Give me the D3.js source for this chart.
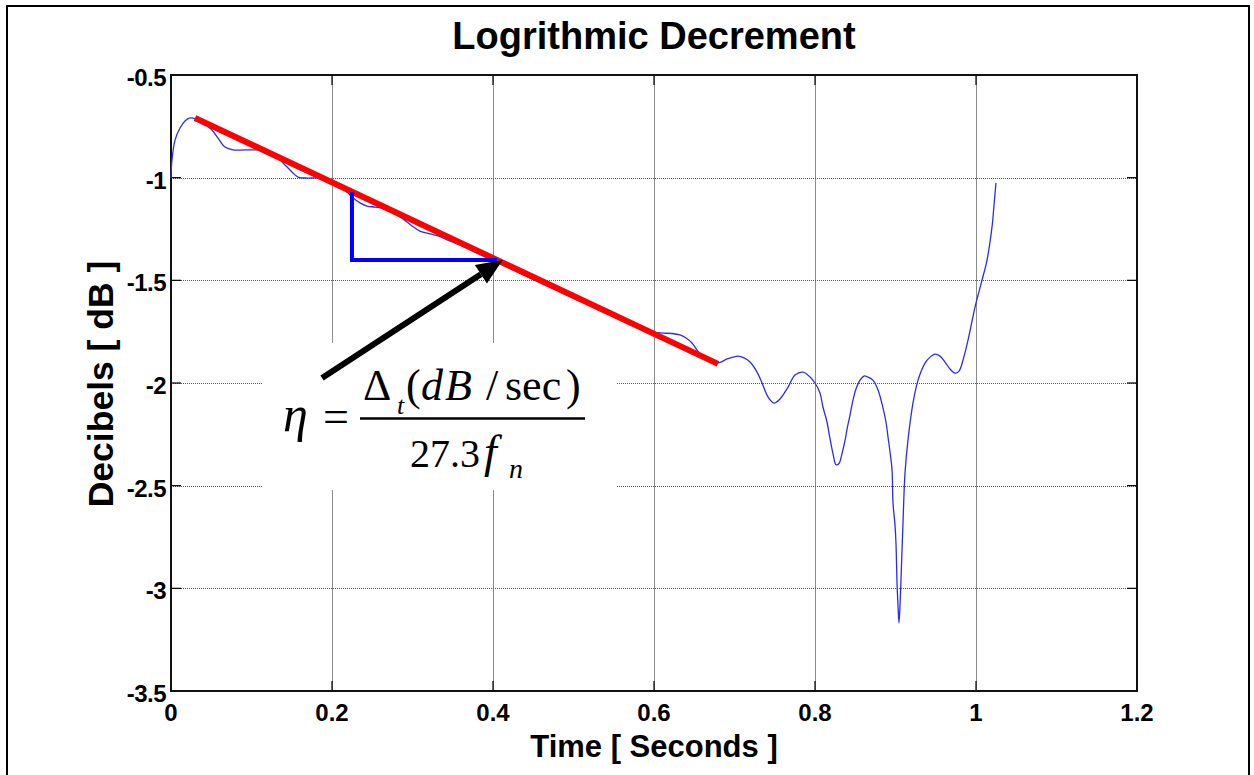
<!DOCTYPE html>
<html>
<head>
<meta charset="utf-8">
<script src="https://cdn.jsdelivr.net/npm/d3@7/dist/d3.min.js"></script>
<style>
  html, body { margin: 0; padding: 0; background: #fff; }
  svg { display: block; }
</style>
</head>
<body>
<svg id="chart" width="1254" height="775"></svg>
<script>
// ---------------- data ----------------
const timeSec = [0,0.0012,0.005,0.0112,0.0174,0.0236,0.0298,0.0422,0.0509,0.0584,0.0671,0.077,0.0919,0.1043,0.113,0.123,0.1329,0.1416,0.1503,0.1578,0.1702,0.1826,0.1913,0.2037,0.2161,0.2248,0.2348,0.2435,0.2534,0.2621,0.2745,0.287,0.2994,0.3093,0.3217,0.3317,0.3441,0.359,0.3776,0.3963,0.4149,0.4335,0.4522,0.4708,0.4894,0.5081,0.5205,0.5329,0.5453,0.5578,0.5702,0.5826,0.5988,0.6112,0.6224,0.6323,0.6398,0.6472,0.6534,0.6609,0.6683,0.6758,0.6832,0.6907,0.6981,0.7043,0.7118,0.7193,0.728,0.7342,0.7416,0.7491,0.7565,0.7665,0.7752,0.7851,0.7938,0.8,0.8062,0.8099,0.8149,0.8186,0.8224,0.8261,0.8298,0.8335,0.8373,0.8398,0.8435,0.8472,0.8509,0.8559,0.8609,0.8658,0.872,0.8783,0.8845,0.8882,0.8907,0.8932,0.8957,0.8969,0.8994,0.9006,0.9019,0.9031,0.9043,0.9056,0.9068,0.9093,0.9118,0.9155,0.9217,0.928,0.9367,0.9429,0.9491,0.9553,0.9615,0.9677,0.9739,0.9789,0.9839,0.9901,0.9988,1.0075,1.0137,1.0199,1.0224,1.0248];
const decibels = [-1.002,-0.914,-0.817,-0.758,-0.724,-0.709,-0.712,-0.739,-0.768,-0.807,-0.851,-0.865,-0.865,-0.865,-0.865,-0.88,-0.904,-0.938,-0.972,-0.997,-1.002,-1.002,-1.011,-1.036,-1.06,-1.094,-1.123,-1.138,-1.143,-1.148,-1.167,-1.197,-1.235,-1.26,-1.274,-1.284,-1.304,-1.328,-1.362,-1.396,-1.43,-1.464,-1.499,-1.533,-1.567,-1.601,-1.62,-1.63,-1.65,-1.674,-1.703,-1.727,-1.752,-1.757,-1.759,-1.766,-1.781,-1.805,-1.84,-1.874,-1.893,-1.903,-1.898,-1.883,-1.874,-1.869,-1.878,-1.898,-1.947,-2.0,-2.068,-2.098,-2.078,-2.02,-1.961,-1.947,-1.971,-2.0,-2.049,-2.117,-2.19,-2.27,-2.345,-2.398,-2.392,-2.345,-2.28,-2.225,-2.156,-2.083,-2.029,-1.986,-1.966,-1.971,-1.986,-2.034,-2.122,-2.19,-2.263,-2.336,-2.424,-2.585,-2.692,-2.78,-2.974,-3.082,-3.169,-3.082,-2.96,-2.682,-2.439,-2.278,-2.098,-1.986,-1.903,-1.874,-1.859,-1.869,-1.898,-1.932,-1.952,-1.942,-1.888,-1.791,-1.63,-1.499,-1.401,-1.24,-1.133,-1.026];

const fitTime = [0.0298, 0.6795];
const fitDb   = [-0.709, -1.907];

const triTime = [0.2248, 0.2248, 0.405];
const triDb   = [-1.070, -1.401, -1.401];

const arrowTime = [0.1876, 0.412];
const arrowDb   = [-1.976, -1.401];

const xTicks = [0, 0.2, 0.4, 0.6, 0.8, 1, 1.2];
const xTickLabels = ["0", "0.2", "0.4", "0.6", "0.8", "1", "1.2"];
const yTicks = [-0.5, -1, -1.5, -2, -2.5, -3, -3.5];
const yTickLabels = ["-0.5", "-1", "-1.5", "-2", "-2.5", "-3", "-3.5"];

const titleText = "Logrithmic Decrement";
const xLabelText = "Time [ Seconds ]";
const yLabelText = "Decibels [ dB ]";

// ---------------- layout ----------------
const svg = d3.select("#chart");
const L = 171, R = 1137, T = 75, B = 691;
const x = d3.scaleLinear().domain([0, 1.2]).range([L, R]);
const y = d3.scaleLinear().domain([-3.5, -0.5]).range([B, T]);

// outer frame
svg.append("rect").attr("x", 7).attr("y", 6).attr("width", 1242).attr("height", 800)
  .attr("fill", "none").attr("stroke", "#000").attr("stroke-width", 2);

// grid
const grid = svg.append("g");
grid.selectAll("line.vg").data(xTicks.slice(1, -1)).join("line")
  .attr("x1", d => Math.round(x(d)) + 0.5).attr("x2", d => Math.round(x(d)) + 0.5)
  .attr("y1", T).attr("y2", B)
  .attr("stroke", "#8c8c8c").attr("stroke-width", 1);
grid.selectAll("line.hg").data(yTicks.slice(1, -1)).join("line")
  .attr("y1", d => Math.round(y(d)) + 0.5).attr("y2", d => Math.round(y(d)) + 0.5)
  .attr("x1", L).attr("x2", R)
  .attr("stroke", "#555").attr("stroke-width", 1).attr("stroke-dasharray", "1,1");

// white box behind the formula
svg.append("rect").attr("x", 262).attr("y", 343).attr("width", 355).attr("height", 147)
  .attr("fill", "#fff");

// ticks (inside, all four sides)
const tk = svg.append("g").attr("stroke", "#000").attr("stroke-width", 1.2);
xTicks.forEach(d => {
  tk.append("line").attr("x1", x(d)).attr("x2", x(d)).attr("y1", B).attr("y2", B - 10);
  tk.append("line").attr("x1", x(d)).attr("x2", x(d)).attr("y1", T).attr("y2", T + 10);
});
yTicks.forEach(d => {
  tk.append("line").attr("y1", y(d)).attr("y2", y(d)).attr("x1", L).attr("x2", L + 10);
  tk.append("line").attr("y1", y(d)).attr("y2", y(d)).attr("x1", R).attr("x2", R - 10);
});

// axes box
svg.append("rect").attr("x", L).attr("y", T).attr("width", R - L).attr("height", B - T)
  .attr("fill", "none").attr("stroke", "#111").attr("stroke-width", 2);

// data curve
const pts = timeSec.map((t, i) => [t, decibels[i]]);
svg.append("path").datum(pts)
  .attr("d", d3.line().x(d => x(d[0])).y(d => y(d[1])).curve(d3.curveCatmullRom.alpha(0.5)))
  .attr("fill", "none").attr("stroke", "#2a2aff").attr("stroke-width", 1.3);

// fit line
svg.append("path").datum(fitTime.map((t, i) => [t, fitDb[i]]))
  .attr("d", d3.line().x(d => x(d[0])).y(d => y(d[1])))
  .attr("fill", "none").attr("stroke", "#ff0000").attr("stroke-width", 6);

// slope triangle
svg.append("path").datum(triTime.map((t, i) => [t, triDb[i]]))
  .attr("d", d3.line().x(d => x(d[0])).y(d => y(d[1])))
  .attr("fill", "none").attr("stroke", "#0000ff").attr("stroke-width", 4)
  .attr("stroke-linejoin", "miter");

// arrow
const ax0 = x(arrowTime[0]), ay0 = y(arrowDb[0]);
const ax1 = x(arrowTime[1]), ay1 = y(arrowDb[1]);
const ang = Math.atan2(ay1 - ay0, ax1 - ax0);
const headLen = 26, headHalf = 11;
const bx = ax1 - headLen * Math.cos(ang), by = ay1 - headLen * Math.sin(ang);
svg.append("line").attr("x1", ax0).attr("y1", ay0).attr("x2", bx).attr("y2", by)
  .attr("stroke", "#000").attr("stroke-width", 6);
svg.append("path")
  .attr("d", `M${ax1},${ay1} L${bx - headHalf * Math.sin(ang)},${by + headHalf * Math.cos(ang)} L${bx + headHalf * Math.sin(ang)},${by - headHalf * Math.cos(ang)} Z`)
  .attr("fill", "#000");

// tick labels
const lblFont = "'Liberation Sans', Arial, Helvetica, sans-serif";
svg.append("g").selectAll("text").data(xTicks).join("text")
  .attr("x", d => x(d)).attr("y", 721)
  .attr("text-anchor", "middle")
  .attr("font-family", lblFont).attr("font-weight", "bold").attr("font-size", 24)
  .text((d, i) => xTickLabels[i]);
svg.append("g").selectAll("text").data(yTicks).join("text")
  .attr("x", 166).attr("y", d => y(d) + 11)
  .attr("text-anchor", "end")
  .attr("font-family", lblFont).attr("font-weight", "bold").attr("font-size", 24)
  .attr("letter-spacing", -0.5)
  .text((d, i) => yTickLabels[i]);

// title and axis labels
svg.append("text").attr("x", 654).attr("y", 49).attr("text-anchor", "middle")
  .attr("font-family", lblFont).attr("font-weight", "bold").attr("font-size", 38)
  .text(titleText);
svg.append("text").attr("x", 654).attr("y", 757).attr("text-anchor", "middle")
  .attr("font-family", lblFont).attr("font-weight", "bold").attr("font-size", 31)
  .text(xLabelText);
svg.append("text").attr("transform", "translate(113,384) rotate(-90)").attr("text-anchor", "middle")
  .attr("font-family", lblFont).attr("font-weight", "bold").attr("font-size", 35.5)
  .text(yLabelText);

// formula
const serif = "'Liberation Serif', 'Times New Roman', Times, serif";
const f = svg.append("g").attr("font-family", serif).attr("fill", "#000");
function piece(txt, px, py, size, italic) {
  f.append("text").attr("x", px).attr("y", py).attr("font-size", size)
    .attr("font-style", italic ? "italic" : "normal").text(txt);
}
piece("\u03B7", 283, 431, 50, true);
piece("=", 323, 432, 46, false);
piece("\u0394", 363, 400, 44, false);
piece("t", 397, 414, 26, true);
piece("(", 406, 400, 44, false);
piece("d", 421, 400, 44, true);
piece("B", 445, 400, 44, true);
piece("/", 486, 400, 44, false);
piece("sec", 505, 400, 44, false);
piece(")", 566, 400, 44, false);
f.append("line").attr("x1", 360).attr("x2", 585).attr("y1", 418.5).attr("y2", 418.5)
  .attr("stroke", "#000").attr("stroke-width", 2.5);
piece("27.3", 410, 467, 40, false);
piece("f", 484, 467, 46, true);
piece("n", 509, 478, 28, true);
</script>
</body>
</html>
